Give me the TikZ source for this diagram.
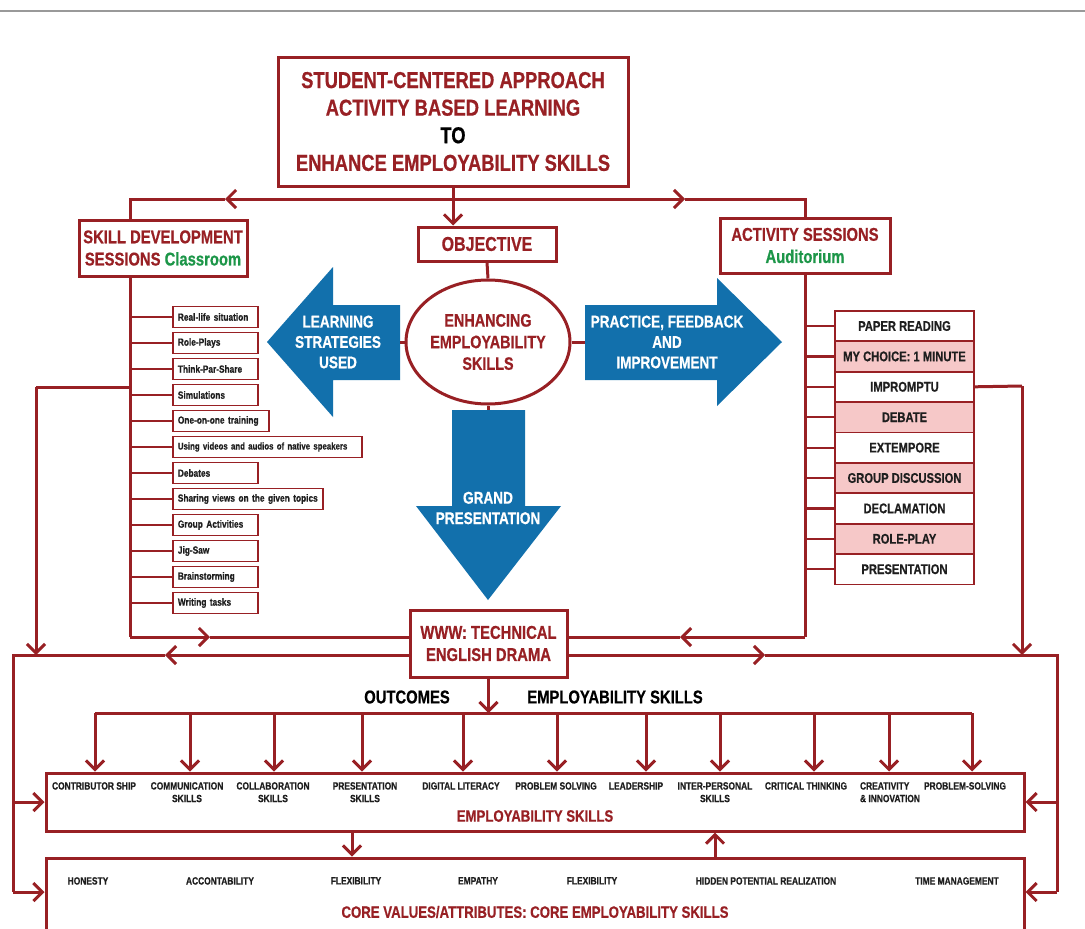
\documentclass[tikz,border=0pt]{standalone}
\usepackage{fontspec}
\setmainfont{Liberation Sans}[FakeStretch=0.8,BoldFeatures={FakeBold=0.6}]
\usepackage{xcolor}
\usepackage{tikz}
\usetikzlibrary{arrows.meta,shapes,positioning}
\definecolor{dred}{RGB}{152,32,36}
\definecolor{dgreen}{RGB}{28,150,72}
\definecolor{sblue}{RGB}{18,112,172}
\definecolor{pinkf}{RGB}{246,200,200}
\definecolor{ink}{RGB}{30,30,30}
\newcommand{\fs}[1]{\fontsize{#1}{1.2\dimexpr#1pt\relax}\selectfont\bfseries}
\tikzset{
  ln/.style={draw=dred,line width=3},
  tk/.style={draw=dred,line width=2.2},
  bx/.style={draw=dred,line width=3,fill=white,text=dred,align=center,inner sep=0},
  lbox/.style={draw=dred,line width=1.8,anchor=west,minimum height=21,inner xsep=5,
    text width=#1,align=left,text=ink,font=\fs{10.4}},
  lbox/.default=75,
  rbox/.style={draw=dred,line width=1.8,minimum width=139,minimum height=30.4,
    text=ink,font=\fs{14}},
  pbox/.style={rbox,fill=pinkf},
  lab/.style={text=ink,font=\fs{10.5},align=center,anchor=north,inner sep=0},
  bigarr/.style={fill=sblue,draw=none},
  wt/.style={text=white,font=\fs{17},align=center}
}
\begin{document}
\begin{tikzpicture}[x=1pt,y=-1pt,>={Straight Barb[length=9pt,width=18pt]}]
\clip (0,0) rectangle (1085,929);
\fill[white] (0,0) rectangle (1085,929);
\draw[gray!80,line width=1.5] (0,11)--(1085,11);

% junctions
\coordinate (j0) at (453,199);
\coordinate (jl) at (130,199);
\coordinate (jr) at (805,199);
\coordinate (bl) at (130,637);
\coordinate (br) at (805,637);
\coordinate (ol) at (13,655);
\coordinate (or) at (1057,655);
\coordinate (sl) at (36,387);
\coordinate (sr) at (1022,386);
\coordinate (ca) at (0,892);

% boxes
\node[bx,minimum width=350,minimum height=129,font=\fs{23}] (top) at (453,121.5)
  {STUDENT-CENTERED APPROACH\\ACTIVITY BASED LEARNING\\\textcolor{black}{TO}\\ENHANCE EMPLOYABILITY SKILLS};
\node[bx,minimum width=168,minimum height=56,font=\fs{18.5}] (skill) at (163,248)
  {SKILL DEVELOPMENT\\SESSIONS \textcolor{dgreen}{Classroom}};
\node[bx,minimum width=138,minimum height=34,font=\fs{20}] (obj) at (487,244) {OBJECTIVE};
\node[bx,minimum width=170,minimum height=55,font=\fs{18.5}] (act) at (805,245.5)
  {ACTIVITY SESSIONS\\\textcolor{dgreen}{Auditorium}};
\node[bx,ellipse,minimum width=164,minimum height=124,font=\fs{18}] (enh) at (488,342)
  {ENHANCING\\EMPLOYABILITY\\SKILLS};
\node[bx,minimum width=157,minimum height=67,font=\fs{18.5}] (www) at (488.5,643.5)
  {WWW: TECHNICAL\\ENGLISH DRAMA};
\node[draw=dred,line width=3,minimum width=978,minimum height=58] (emp) at (535,802) {};
\node[draw=dred,line width=3,minimum width=978,minimum height=84] (core) at (535,900) {};

% blue arrows
\fill[bigarr] (400,305)--(333,305)--(333,267)--(267,342)--(333,417)--(333,380)--(400,380)--cycle;
\fill[bigarr] (585,305)--(717,305)--(717,278)--(782,342)--(717,406)--(717,380)--(585,380)--cycle;
\fill[bigarr] (452,410)--(525,410)--(525,506)--(561,506)--(488,600)--(416,506)--(452,506)--cycle;
\node[wt] (la) at (338,342) {LEARNING\\STRATEGIES\\USED};
\node[wt] (ra) at (667,342) {PRACTICE, FEEDBACK\\AND\\IMPROVEMENT};
\node[wt] (da) at (488,508) {GRAND\\PRESENTATION};
\coordinate (lae) at (400,342);
\coordinate (rae) at (585,342);
\coordinate (dae) at (488,410);

% left list
\node[lbox] (l1) at (172,317) {Real-life situation};
\node[lbox] (l2) at (172,343) {Role-Plays};
\node[lbox] (l3) at (172,369) {Think-Par-Share};
\node[lbox] (l4) at (172,395) {Simulations};
\node[lbox=86] (l5) at (172,421) {One-on-one training};
\node[lbox=179,font=\fs{9.8}] (l6) at (172,447) {Using videos and audios of native speakers};
\node[lbox] (l7) at (172,473) {Debates};
\node[lbox=140] (l8) at (172,499) {Sharing views on the given topics};
\node[lbox] (l9) at (172,525) {Group Activities};
\node[lbox] (l10) at (172,551) {Jig-Saw};
\node[lbox] (l11) at (172,577) {Brainstorming};
\node[lbox] (l12) at (172,603) {Writing tasks};
\foreach \i in {1,...,12} \draw[tk] (l\i.west -| bl)--(l\i.west);

% right list
\node[rbox] (r1) at (904.5,326) {PAPER READING};
\node[pbox] (r2) at (904.5,356.4) {MY CHOICE: 1 MINUTE};
\node[rbox] (r3) at (904.5,386.8) {IMPROMPTU};
\node[pbox] (r4) at (904.5,417.2) {DEBATE};
\node[rbox] (r5) at (904.5,447.6) {EXTEMPORE};
\node[pbox] (r6) at (904.5,478) {GROUP DISCUSSION};
\node[rbox] (r7) at (904.5,508.4) {DECLAMATION};
\node[pbox] (r8) at (904.5,538.8) {ROLE-PLAY};
\node[rbox] (r9) at (904.5,569.2) {PRESENTATION};
\foreach \i in {1,...,9} \draw[tk] (r\i.west -| br)--(r\i.west);

% top connectors
\draw[ln] (top.south)--(j0);
\draw[ln,->] (j0)--(225,199);
\draw[ln] (225,199)--(jl)--(skill.north -| jl);
\draw[ln,->] (j0)--(685,199);
\draw[ln] (685,199)--(jr)--(act.north);
\draw[ln,->] (j0)--(j0 |- obj.north);
\draw[ln] (obj.south)--(enh.north);
\draw[ln] (enh.west)--(lae);
\draw[ln] (enh.east)--(rae);
\draw[ln] (enh.south)--(dae);

% sides
\draw[ln] (skill.south -| bl)--(bl);
\draw[ln,->] (bl)--(210,637);
\draw[ln] (210,637)--(www.west |- bl);
\draw[ln] (act.south)--(br);
\draw[ln,->] (br)--(680,637);
\draw[ln] (680,637)--(www.east |- br);
\draw[ln] (sl -| bl)--(sl);
\draw[ln,->] (sl)--(sl |- ol);
\draw[ln] (r3.east)--(sr);
\draw[ln,->] (sr)--(sr |- or);
\draw[ln,->] (www.west |- ol)--(165,655);
\draw[ln] (165,655)--(ol)--(ol |- ca);
\draw[ln,->] (www.east |- or)--(765,655);
\draw[ln] (765,655)--(or)--(or |- ca);
\draw[ln,->] (ol |- emp.west)--(emp.west);
\draw[ln,->] (ol |- ca)--(core.west |- ca);
\draw[ln,->] (or |- emp.east)--(emp.east);
\draw[ln,->] (or |- ca)--(core.east |- ca);

% outcomes
\coordinate (bar) at (0,713);
\draw[ln,->] (www.south)--(www.south |- bar);
\draw[ln] (95,713)--(972,713);
\foreach \x in {95,190,274,362,463,557,646,720,814,889,972}{
  \coordinate (t) at (\x,713);
  \draw[ln,->] (t)--(t |- emp.north);
}
\node[text=black,font=\fs{18.5}] (outc) at (407,697) {OUTCOMES};
\node[text=black,font=\fs{18.5}] (empl) at (615,697) {EMPLOYABILITY SKILLS};

% employability skills
\node[lab] (e1) at (94,782) {CONTRIBUTOR SHIP};
\node[lab] (e2) at (187,782) {COMMUNICATION\\SKILLS};
\node[lab] (e3) at (273,782) {COLLABORATION\\SKILLS};
\node[lab] (e4) at (365,782) {PRESENTATION\\SKILLS};
\node[lab] (e5) at (461,782) {DIGITAL LITERACY};
\node[lab] (e6) at (556,782) {PROBLEM SOLVING};
\node[lab] (e7) at (636,782) {LEADERSHIP};
\node[lab] (e8) at (715,782) {INTER-PERSONAL\\SKILLS};
\node[lab] (e9) at (806,782) {CRITICAL THINKING};
\node[lab,align=left] (e10) at (890,782) {CREATIVITY\\\& INNOVATION};
\node[lab] (e11) at (965,782) {PROBLEM-SOLVING};
\node[text=dred,font=\fs{16.5}] (empt) at (535,816) {EMPLOYABILITY SKILLS};

\coordinate (ea) at (352,0);
\coordinate (eb) at (715,0);
\draw[ln,->] (emp.south -| ea)--(core.north -| ea);
\draw[ln,->] (core.north -| eb)--(emp.south -| eb);

% core values
\node[lab] (c1) at (88,877) {HONESTY};
\node[lab] (c2) at (220,877) {ACCONTABILITY};
\node[lab] (c3) at (356,877) {FLEXIBILITY};
\node[lab] (c4) at (478,877) {EMPATHY};
\node[lab] (c5) at (592,877) {FLEXIBILITY};
\node[lab] (c6) at (766,877) {HIDDEN POTENTIAL REALIZATION};
\node[lab] (c7) at (957,877) {TIME MANAGEMENT};
\node[text=dred,font=\fs{16.5}] (coret) at (535,912) {CORE VALUES/ATTRIBUTES: CORE EMPLOYABILITY SKILLS};
\end{tikzpicture}
\end{document}
